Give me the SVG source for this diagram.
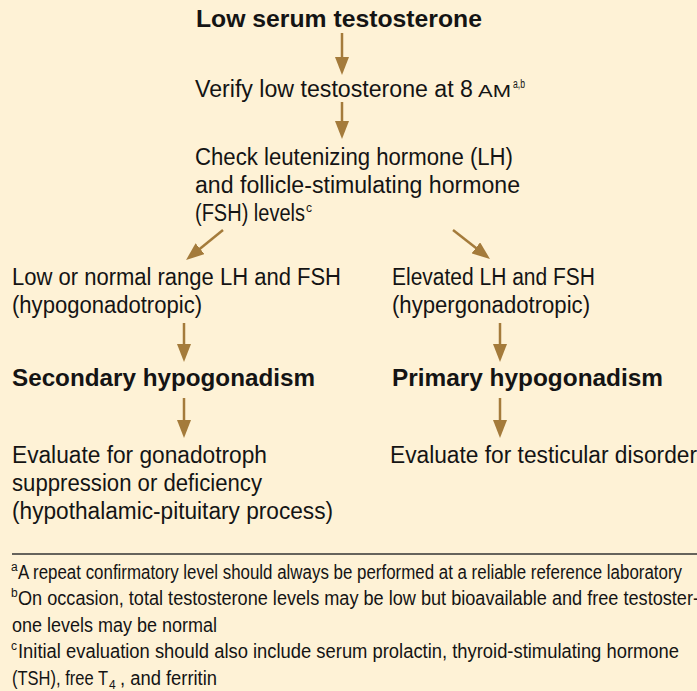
<svg xmlns="http://www.w3.org/2000/svg" width="697" height="691" viewBox="0 0 697 691">
<defs>
<style>
.t{font-family:"Liberation Sans",Arial,sans-serif;font-size:23px;fill:#141414}
.b{font-weight:bold;font-size:24.5px}
.sc{font-size:16px}
.sup{font-size:12px}
.f{font-size:20px}
.conn line{stroke:#A47B3B;stroke-width:2.5;fill:none}
.sep{stroke:#333;stroke-width:1.5}
</style>
<marker id="ah" markerUnits="userSpaceOnUse" viewBox="0 0 18 14" markerWidth="18" markerHeight="14" refX="8" refY="7" orient="auto">
<path d="M0,0 L18,7 L0,14 Z" fill="#A47B3B"/>
</marker>
</defs>
<rect x="0" y="0" width="697" height="691" fill="#FEF2D6"/>

<g id="n-low-serum">
<text class="t b" x="196" y="27" textLength="286" lengthAdjust="spacingAndGlyphs">Low serum testosterone</text>
</g>
<g id="n-verify">
<text class="t" x="195" y="97" textLength="278" lengthAdjust="spacingAndGlyphs">Verify low testosterone at 8</text>
<text class="t sc" x="478" y="97" textLength="33" lengthAdjust="spacingAndGlyphs">AM</text>
<text class="t sup" x="513" y="88" textLength="12" lengthAdjust="spacingAndGlyphs">a,b</text>
</g>
<g id="n-check">
<text class="t" x="195" y="165" textLength="318" lengthAdjust="spacingAndGlyphs">Check leutenizing hormone (LH)</text>
<text class="t" x="195" y="193" textLength="325" lengthAdjust="spacingAndGlyphs">and follicle-stimulating hormone</text>
<text class="t" x="195" y="221" textLength="110" lengthAdjust="spacingAndGlyphs">(FSH) levels</text>
<text class="t sup" x="306" y="212">c</text>
</g>
<g id="n-low-normal">
<text class="t" x="12" y="285" textLength="329" lengthAdjust="spacingAndGlyphs">Low or normal range LH and FSH</text>
<text class="t" x="12" y="313" textLength="190" lengthAdjust="spacingAndGlyphs">(hypogonadotropic)</text>
</g>
<g id="n-elevated">
<text class="t" x="392" y="285" textLength="203" lengthAdjust="spacingAndGlyphs">Elevated LH and FSH</text>
<text class="t" x="392" y="313" textLength="198" lengthAdjust="spacingAndGlyphs">(hypergonadotropic)</text>
</g>
<g id="n-secondary">
<text class="t b" x="12" y="386" textLength="303" lengthAdjust="spacingAndGlyphs">Secondary hypogonadism</text>
</g>
<g id="n-primary">
<text class="t b" x="392" y="386" textLength="271" lengthAdjust="spacingAndGlyphs">Primary hypogonadism</text>
</g>
<g id="n-eval-gonadotroph">
<text class="t" x="12" y="463" textLength="255" lengthAdjust="spacingAndGlyphs">Evaluate for gonadotroph</text>
<text class="t" x="12" y="491" textLength="250" lengthAdjust="spacingAndGlyphs">suppression or deficiency</text>
<text class="t" x="12" y="519" textLength="321" lengthAdjust="spacingAndGlyphs">(hypothalamic-pituitary process)</text>
</g>
<g id="n-eval-testicular">
<text class="t" x="390" y="463" textLength="307" lengthAdjust="spacingAndGlyphs">Evaluate for testicular disorder</text>
</g>

<g id="connectors" class="conn">
<line x1="342" y1="33" x2="342" y2="65" marker-end="url(#ah)"/>
<line x1="342" y1="102" x2="342" y2="129" marker-end="url(#ah)"/>
<line x1="223" y1="230" x2="193.8" y2="253.7" marker-end="url(#ah)"/>
<line x1="453" y1="230" x2="482.1" y2="252.8" marker-end="url(#ah)"/>
<line x1="184" y1="323" x2="184" y2="352" marker-end="url(#ah)"/>
<line x1="500" y1="323" x2="500" y2="352" marker-end="url(#ah)"/>
<line x1="184" y1="398" x2="184" y2="428" marker-end="url(#ah)"/>
<line x1="500" y1="398" x2="500" y2="428" marker-end="url(#ah)"/>
</g>

<line class="sep" x1="12" y1="554" x2="697" y2="554"/>

<g id="footnotes">
<text class="t sup" x="11" y="571">a</text>
<text class="t f" x="18" y="579" textLength="664" lengthAdjust="spacingAndGlyphs">A repeat confirmatory level should always be performed at a reliable reference laboratory</text>
<text class="t sup" x="11" y="597">b</text>
<text class="t f" x="18" y="605" textLength="681" lengthAdjust="spacingAndGlyphs">On occasion, total testosterone levels may be low but bioavailable and free testoster-</text>
<text class="t f" x="12" y="632" textLength="205" lengthAdjust="spacingAndGlyphs">one levels may be normal</text>
<text class="t sup" x="11" y="650">c</text>
<text class="t f" x="18" y="658" textLength="661" lengthAdjust="spacingAndGlyphs">Initial evaluation should also include serum prolactin, thyroid-stimulating hormone</text>
<text class="t f" x="12" y="685" textLength="96" lengthAdjust="spacingAndGlyphs">(TSH), free T</text>
<text class="t" x="109" y="689" style="font-size:12px">4</text>
<text class="t f" x="120" y="685" textLength="97" lengthAdjust="spacingAndGlyphs">, and ferritin</text>
</g>
</svg>
